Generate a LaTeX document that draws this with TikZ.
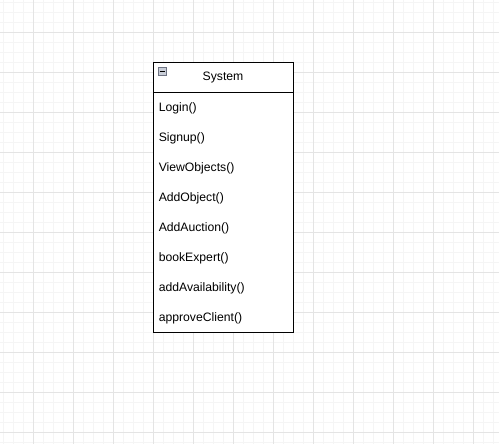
\documentclass[tikz,border=0pt]{standalone}
\usepackage{fontspec}
\setmainfont{Liberation Sans}
\usetikzlibrary{positioning}
\definecolor{gridminor}{HTML}{F5F5F5}
\definecolor{gridmajor}{HTML}{E4E4E4}
\definecolor{togglefill}{HTML}{C9CED8}
\definecolor{toggleline}{HTML}{6E7383}
\tikzset{
  classpart/.style={draw=black, line width=0.9pt, fill=white, minimum width=140pt, inner sep=0pt, font=\fontsize{12.2pt}{14pt}\selectfont},
  method/.style={anchor=west, inner sep=0pt, font=\fontsize{12.2pt}{14pt}\selectfont},
  togglebox/.style={draw=toggleline, fill=togglefill, minimum size=8pt, inner sep=0pt, line width=0.6pt}
}
\begin{document}
\begin{tikzpicture}[x=1pt,y=-1pt]
  \useasboundingbox (0,0) rectangle (499,444);
  \fill[white] (0,0) rectangle (499,444);
  % background grid
  \foreach \x in {3,13,...,493} \draw[gridminor, line width=0.8pt] (\x,0) -- (\x,444);
  \foreach \y in {2,12,...,442} \draw[gridminor, line width=0.8pt] (0,\y) -- (499,\y);
  \foreach \x in {33,73,...,473} \draw[gridmajor, line width=0.8pt] (\x,0) -- (\x,444);
  \foreach \y in {32,72,...,432} \draw[gridmajor, line width=0.8pt] (0,\y) -- (499,\y);
  % class box
  \node[classpart, minimum height=30pt] (header) at (223,77) {};
  \node[inner sep=0pt, font=\fontsize{12.2pt}{14pt}\selectfont] (title) at ([yshift=-1pt]header.center) {System};
  \node[classpart, minimum height=240pt, below=0pt of header] (body) {};
  \node[togglebox] (toggle) at (162,71.5) {};
  \draw[black, line width=0.9pt] ([xshift=1.8pt]toggle.west) -- ([xshift=-1.8pt]toggle.east);
  % operations
  \foreach \name [count=\i] in {Login(),Signup(),ViewObjects(),AddObject(),AddAuction(),bookExpert(),addAvailability(),approveClient()}
    \node[method] (op\i) at ([xshift=6pt, yshift={-16pt-30pt*(\i-1)}] body.north west) {\name};
\end{tikzpicture}
\end{document}
